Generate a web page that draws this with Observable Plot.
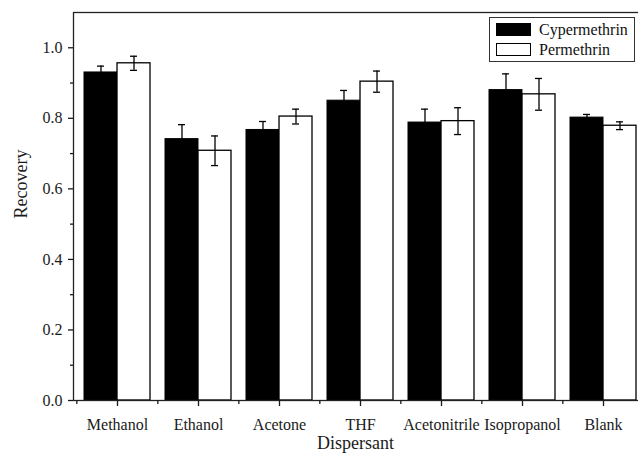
<!DOCTYPE html>
<html><head><meta charset="utf-8">
<script src="https://cdn.jsdelivr.net/npm/d3@7"></script>
<script src="https://cdn.jsdelivr.net/npm/@observablehq/plot@0.6"></script>
<style>
html,body{margin:0;padding:0;background:#fff}
body{width:638px;height:455px;overflow:hidden;position:relative;font-family:'Liberation Serif',serif}
#legend{position:absolute;left:489px;top:17px;width:146px;height:45px;border:1px solid #333;box-sizing:border-box;padding:1.5px 0 0 6px;background:#fff;font-family:'Liberation Serif','Times New Roman',serif}
.row{display:flex;align-items:center;height:20px;font-size:16px;line-height:20px;color:#111;font-family:'Liberation Serif','Times New Roman',serif}
.sw{width:35px;height:13px;box-sizing:border-box;border:1px solid #000;margin-right:8px}
</style></head>
<body><div id="chart"></div>
<div id="legend"></div>
<script>
const categories = ["Methanol","Ethanol","Acetone","THF","Acetonitrile","Isopropanol","Blank"];
const series = ["Cypermethrin","Permethrin"];
const seriesFill = ["#000000","#ffffff"];
const cypermethrin = [0.930,0.741,0.767,0.850,0.788,0.880,0.802];
const cypermethrinErr = [0.018,0.041,0.024,0.029,0.038,0.046,0.009];
const permethrin = [0.956,0.708,0.805,0.904,0.792,0.868,0.779];
const permethrinErr = [0.020,0.042,0.021,0.030,0.038,0.045,0.011];
const yTicks = [0,0.2,0.4,0.6,0.8,1.0];
const yMinorTicks = [0.1,0.3,0.5,0.7,0.9];

const cypRows = categories.map((c,i)=>({category:c, series:series[0], value:cypermethrin[i], err:cypermethrinErr[i]}));
const perRows = categories.map((c,i)=>({category:c, series:series[1], value:permethrin[i], err:permethrinErr[i]}));

const W = 638, H = 455, mL = 73, mR = -9, mT = 12, mB = 55;
const pInner = 0.188, pOuter = 0.123;
const step = (W - mR - mL) / (categories.length - pInner + 2*pOuter);
const bw = step * (1 - pInner);
const capHalf = 3.5;

const chart = Plot.plot({
  width: W, height: H,
  marginLeft: mL, marginRight: mR, marginTop: mT, marginBottom: mB,
  style: {fontFamily: "'Liberation Serif', serif", fontSize: "16px", color: "#1a1a1a", background: "white", overflow: "hidden"},
  x: {domain: categories, paddingInner: pInner, paddingOuter: pOuter, label: null},
  y: {domain: [0, 1.1], label: null},
  marks: [
    Plot.barY(cypRows, {x: "category", y: "value", fill: seriesFill[0], stroke: "#000", strokeWidth: 1, insetRight: bw/2}),
    Plot.barY(perRows, {x: "category", y: "value", fill: seriesFill[1], stroke: "#000", strokeWidth: 1.3, insetLeft: bw/2}),
    Plot.ruleX(cypRows, {x: "category", y1: d => d.value - d.err, y2: d => d.value + d.err, dx: -bw/4, stroke: "#000", strokeWidth: 1.3}),
    Plot.ruleX(perRows, {x: "category", y1: d => d.value - d.err, y2: d => d.value + d.err, dx: bw/4, stroke: "#000", strokeWidth: 1.3}),
    Plot.tickY(cypRows, {x: "category", y: d => d.value + d.err, insetLeft: bw/4 - capHalf, insetRight: bw*3/4 - capHalf, stroke: "#000", strokeWidth: 1.3}),
    Plot.tickY(cypRows, {x: "category", y: d => d.value - d.err, insetLeft: bw/4 - capHalf, insetRight: bw*3/4 - capHalf, stroke: "#000", strokeWidth: 1.3}),
    Plot.tickY(perRows, {x: "category", y: d => d.value + d.err, insetLeft: bw*3/4 - capHalf, insetRight: bw/4 - capHalf, stroke: "#000", strokeWidth: 1.3}),
    Plot.tickY(perRows, {x: "category", y: d => d.value - d.err, insetLeft: bw*3/4 - capHalf, insetRight: bw/4 - capHalf, stroke: "#000", strokeWidth: 1.3}),
    Plot.frame({stroke: "#222", strokeWidth: 1.3}),
    Plot.axisY({ticks: yTicks, tickSize: 5, tickPadding: 6, tickFormat: d3.format(".1f"), label: null, strokeWidth: 1.3}),
    Plot.axisY({ticks: yMinorTicks, tickSize: 3, tickFormat: () => "", label: null, strokeWidth: 1.3}),
    Plot.axisX({ticks: categories, tickSize: 6, tickPadding: 12, label: null, strokeWidth: 1.3}),
    Plot.axisX({ticks: categories, tickSize: 4, dx: -step/2, tickFormat: () => "", label: null, strokeWidth: 1.3}),
    Plot.text(["Recovery"], {frameAnchor: "left", rotate: -90, dx: -52, dy: 12, fontSize: 18, fill: "#1a1a1a"}),
    Plot.text(["Dispersant"], {frameAnchor: "bottom", dx: -5, dy: 48, fontSize: 18, fill: "#1a1a1a"})
  ]
});
document.getElementById("chart").appendChild(chart);

const legend = document.getElementById("legend");
series.forEach((s, i) => {
  const row = document.createElement("div");
  row.className = "row";
  const sw = document.createElement("span");
  sw.className = "sw";
  sw.style.background = seriesFill[i];
  const t = document.createElement("span");
  t.textContent = s;
  row.appendChild(sw); row.appendChild(t);
  legend.appendChild(row);
});
</script>
</body></html>
